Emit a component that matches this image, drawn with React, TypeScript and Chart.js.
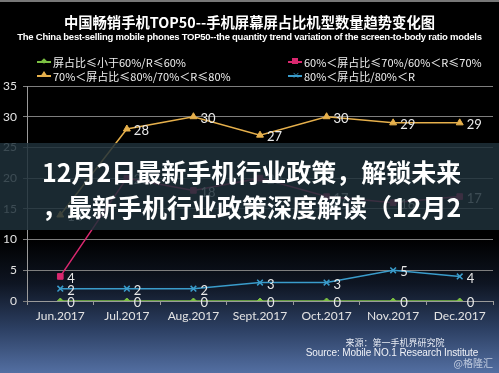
import React, { useEffect, useRef } from "react";
import { Chart, registerables } from "chart.js";

Chart.register(...registerables);

const months = ["Jun.2017", "Jul.2017", "Aug.2017", "Sept.2017", "Oct.2017", "Nov.2017", "Dec.2017"];
const seriesLE60 = [0, 0, 0, 0, 0, 0, 0];
const series60to70 = [4, 20, 18, 20, 17, 16, 17];
const series70to80 = [14, 28, 30, 27, 30, 29, 29];
const seriesGT80 = [2, 2, 2, 3, 3, 5, 4];

const labelLE60 = "屏占比≤小于60%/R≤60%";
const label60to70 = "60%＜屏占比≤70%/60%＜R≤70%";
const label70to80 = "70%＜屏占比≤80%/70%＜R≤80%";
const labelGT80 = "80%＜屏占比/80%＜R";

const yTicks = [0, 5, 10, 15, 20, 25, 30, 35];

const titleCN = "中国畅销手机TOP50--手机屏幕屏占比机型数量趋势变化图";
const titleEN = "The China best-selling mobile phones TOP50--the quantity trend variation of the screen-to-body ratio models";
const sourceCN = "来源：第一手机界研究院";
const sourceEN = "Source: Mobile NO.1 Research Institute";
const watermark = "@格隆汇";
const bannerLine1 = "12月2日最新手机行业政策，解锁未来";
const bannerLine2 = "，最新手机行业政策深度解读（12月2";

const GREEN = "#7cc043";
const PINK = "#d9286f";
const GOLD = "#e6b04c";
const BLUE = "#3a9ccb";

const dataLabelPlugin = {
  id: "dataLabels",
  afterDatasetsDraw(chart: any) {
    const ctx = chart.ctx;
    ctx.save();
    ctx.font = "13px Lato, 'Open Sans', sans-serif";
    ctx.fillStyle = "#e8e8e8";
    ctx.textAlign = "left";
    ctx.textBaseline = "middle";
    chart.data.datasets.forEach((ds: any, i: number) => {
      const meta = chart.getDatasetMeta(i);
      meta.data.forEach((pt: any, j: number) => {
        ctx.fillText(String(ds.data[j]), pt.x + 7, pt.y + 2);
      });
    });
    ctx.restore();
  },
};

function LegendItem({ color, label, marker }: { color: string; label: string; marker: string }) {
  let m: any = null;
  if (marker === "diamond") m = <div style={{ position: "absolute", left: 5, top: -2, width: 4, height: 4, background: color, transform: "rotate(45deg)" }} />;
  if (marker === "square") m = <div style={{ position: "absolute", left: 4, top: -3, width: 6, height: 6, background: color }} />;
  if (marker === "triangle") m = <div style={{ position: "absolute", left: 3, top: -4, width: 0, height: 0, borderLeft: "4px solid transparent", borderRight: "4px solid transparent", borderBottom: `6px solid ${color}` }} />;
  if (marker === "cross") m = <div style={{ position: "absolute", left: 4, top: -3, width: 6, height: 6, color, fontSize: 8, lineHeight: "6px" }}>×</div>;
  return (
    <div style={{ display: "flex", alignItems: "center", height: 14 }}>
      <div style={{ position: "relative", width: 14, height: 2, background: color, marginRight: 2 }}>{m}</div>
      <span>{label}</span>
    </div>
  );
}

export default function App() {
  const ref = useRef<HTMLCanvasElement>(null);
  useEffect(() => {
    const chart = new Chart(ref.current!, {
      type: "line",
      data: {
        labels: months,
        datasets: [
          { label: labelLE60, data: seriesLE60, borderColor: GREEN, backgroundColor: GREEN, borderWidth: 1.5, pointStyle: "rectRot", pointRadius: 3, pointBorderWidth: 1 },
          { label: label60to70, data: series60to70, borderColor: PINK, backgroundColor: PINK, borderWidth: 1.5, pointStyle: "rect", pointRadius: 4, pointBorderWidth: 1 },
          { label: label70to80, data: series70to80, borderColor: GOLD, backgroundColor: GOLD, borderWidth: 1.5, pointStyle: "triangle", pointRadius: 4, pointBorderWidth: 1 },
          { label: labelGT80, data: seriesGT80, borderColor: BLUE, backgroundColor: BLUE, borderWidth: 1.5, pointStyle: "crossRot", pointRadius: 4, pointBorderWidth: 1.5 },
        ],
      },
      options: {
        animation: false,
        responsive: false,
        layout: { padding: { left: 0, top: 86, right: 6, bottom: 0 } },
        plugins: { legend: { display: false }, tooltip: { enabled: false }, title: { display: false } },
        scales: {
          x: {
            offset: true,
            grid: { offset: true, drawOnChartArea: false, drawTicks: true, tickLength: 4, color: "#9a9a9a" },
            border: { display: true, color: "#9a9a9a", width: 1 },
            ticks: { color: "#e4e4e4", font: { size: 12, family: "Lato, 'Open Sans', sans-serif" }, padding: 4, maxRotation: 0 },
            afterFit: (s: any) => { s.height = 72; },
          },
          y: {
            min: 0,
            max: 35,
            afterBuildTicks: (s: any) => { s.ticks = yTicks.map((v) => ({ value: v })); },
            grid: { color: "#7e7e7e", tickLength: 4, lineWidth: 1 },
            border: { display: true, color: "#9a9a9a", width: 1 },
            ticks: { color: "#e4e4e4", font: { size: 12, family: "Lato, 'Open Sans', sans-serif" }, padding: 6 },
            afterFit: (s: any) => { s.width = 27; },
          },
        },
      },
      plugins: [dataLabelPlugin],
    });
    return () => chart.destroy();
  }, []);

  return (
    <div style={{ position: "absolute", left: 0, top: 0, width: 499, height: 373, overflow: "hidden", background: "linear-gradient(to bottom, #000 0%, #000 64%, #0e1522 76%, #2c3f62 88%, #536fa2 100%)", fontFamily: "'Noto Sans CJK SC', sans-serif", color: "#fff" }}>
      <div style={{ position: "absolute", left: 0, top: 0, width: 499, height: 2, background: "#777" }} />
      <canvas ref={ref} width={499} height={373} style={{ position: "absolute", left: 0, top: 0, width: 499, height: 373 }} />
      <div style={{ position: "absolute", left: 0, top: 12, width: 499, textAlign: "center", fontSize: 14.3, fontWeight: 700, lineHeight: "20px" }}>{titleCN}</div>
      <div style={{ position: "absolute", left: 0, top: 31, width: 499, textAlign: "center", fontSize: 9.5, fontWeight: 700, lineHeight: "12px", fontFamily: "'Liberation Sans', Arial, sans-serif", letterSpacing: -0.25 }}>{titleEN}</div>
      <div style={{ position: "absolute", left: 37, top: 55, fontSize: 11, lineHeight: "14px", color: "#f0f0f0" }}>
        <LegendItem color={GREEN} label={labelLE60} marker="diamond" />
        <LegendItem color={GOLD} label={label70to80} marker="triangle" />
      </div>
      <div style={{ position: "absolute", left: 288, top: 55, fontSize: 11, lineHeight: "14px", color: "#f0f0f0" }}>
        <LegendItem color={PINK} label={label60to70} marker="square" />
        <LegendItem color={BLUE} label={labelGT80} marker="cross" />
      </div>
      <div style={{ position: "absolute", left: 0, top: 143, width: 499, height: 87, background: "rgba(30,48,58,0.85)" }}>
        <div style={{ position: "absolute", left: 42, top: 11, fontSize: 25, fontWeight: 700, lineHeight: "35px", whiteSpace: "nowrap" }}>{bannerLine1}</div>
        <div style={{ position: "absolute", left: 42, top: 46, fontSize: 25, fontWeight: 700, lineHeight: "35px", whiteSpace: "nowrap" }}>{bannerLine2}</div>
      </div>
      <div style={{ position: "absolute", left: 320, top: 337, width: 150, textAlign: "center", fontSize: 9, lineHeight: "11px", color: "#e8ecf4" }}>{sourceCN}</div>
      <div style={{ position: "absolute", left: 302, top: 347, width: 180, textAlign: "center", fontSize: 10, lineHeight: "12px", color: "#f0f2f8", fontFamily: "'Liberation Sans', Arial, sans-serif", letterSpacing: -0.1 }}>{sourceEN}</div>
      <div style={{ position: "absolute", right: 6, top: 357, fontSize: 10, lineHeight: "12px", color: "rgba(230,235,245,0.75)" }}>{watermark}</div>
    </div>
  );
}
